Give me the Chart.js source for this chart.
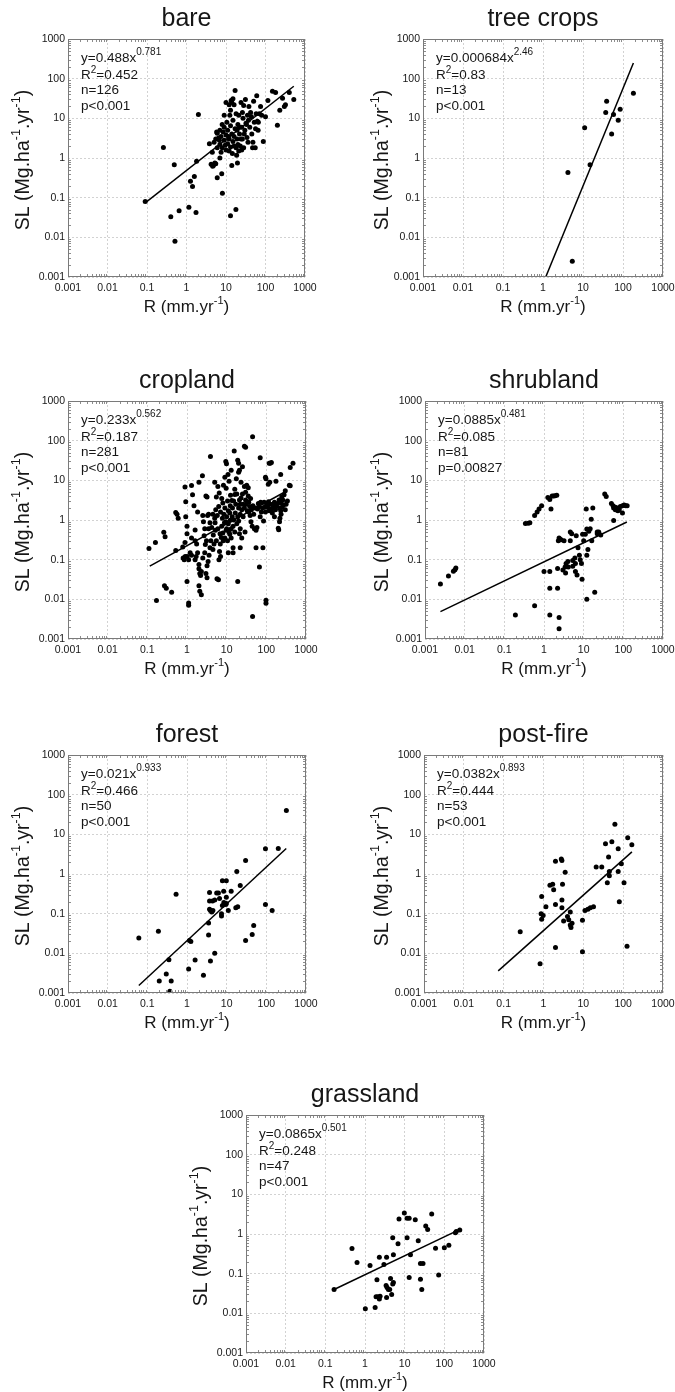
<!DOCTYPE html>
<html><head><meta charset="utf-8">
<script src="https://cdn.jsdelivr.net/npm/chart.js@4.4.0/dist/chart.umd.min.js"></script>
<style>
html,body{margin:0;padding:0;background:#fff;overflow:hidden;width:675px;height:1392px;position:relative}
canvas{position:absolute}
</style></head><body>
<script>
// ---------- data ----------
const tickValues=[0.001,0.01,0.1,1,10,100,1000];
const tickLabels=['0.001','0.01','0.1','1','10','100','1000'];
const panelTitles=['bare','tree crops','cropland','shrubland','forest','post-fire','grassland'];
const eqCoef=['0.488','0.000684','0.233','0.0885','0.021','0.0382','0.0865'];
const eqExp=['0.781','2.46','0.562','0.481','0.933','0.893','0.501'];
const r2Vals=['0.452','0.83','0.187','0.085','0.466','0.444','0.248'];
const nVals=['126','13','281','81','50','53','47'];
const pVals=['p<0.001','p<0.001','p<0.001','p=0.00827','p<0.001','p<0.001','p<0.001'];

// [R, SL] pairs
const bare=[[0.09,0.08],[0.26,1.85],[0.49,0.68],[0.40,0.033],[0.65,0.047],[0.51,0.008],[1.15,0.057],[1.74,0.042],[1.26,0.26],[1.58,0.34],[1.42,0.19],[1.8,0.83],[2.0,12.5],[8.1,0.13],[13,0.035],[17.8,0.05],
[3.8,2.3],[4.5,1.4],[4.2,0.7],[4.8,0.65],[5.2,0.75],[4.6,0.62],[5.5,0.72],[6,0.32],[7,1],[7.8,0.4],[14,0.65],[19.5,0.75],[18.6,1.17],[14.5,1.3],
[5,2.5],[5.5,3],[6,4.2],[6.5,3.2],[7,2.2],[7,5],[7.5,3.5],[8,1.8],[8,7],[8.5,4.5],[9,2.8],[9,6],[10,3.8],[10,1.6],[10.5,8],[11,2.3],[11,5],[12,3],[12,22],[12.5,12],[13,1.9],[13,6.5],[14,4],[14,25],[15,2.6],[15,9],[15,31],[16,3.5],[16,2],[17,5.5],[17,50],[18,1.8],[18,13],[19,3],[20,7],[20,2.2],[21,12],[21,1.5],[22,4],[23,2],[24,25],[25,6],[25,1.6],[26,3],[27,10],[28,21],[28,1.8],[30,5],[31,30],[33,7],[34,3.3],[35,12],[37,9],[38,20],[40,6],[42,14],[45,4],[47,1.8],[50,27],[52,8],[55,1.8],[56,5.5],[58,13],[60,37],[62,8.5],[65,5],[70,13],[80,12],[88,2.6],[100,11],[115,28],[150,48],[180,45],[200,6.7],[230,16],[270,32],[300,20],[320,22],[400,45],[520,30],
[5.8,4.5],[6.8,2.8],[9.5,2.1],[11.5,3.5],[12,1.5],[13.5,28],[16,22],[19,5],[22,6],[24,3],[29,4],[32,7.5],[36,2.5],[44,11],[48,2.5],[66,8],[75,20],[13,16],[9,12],[7.5,1.4],[6,1.8],[10,25],[26,14]];
const treeCrops=[[4.2,0.43],[5.4,0.0025],[11,5.8],[15,0.68],[39,27],[37,14],[58,12.5],[52,4],[76,9],[85,17],[182,43]];
const cropland=[[0.11,0.19],[0.16,0.27],[0.17,0.0093],[0.26,0.49],[0.28,0.38],[0.27,0.022],[0.3,0.019],[0.52,1.55],[0.56,1.4],[0.6,1.1],[0.52,0.17],[0.41,0.015],[0.78,0.21],[0.89,0.27],[0.89,6.8],[0.93,2.9],[0.93,1.2],[0.8,0.11],[0.85,0.1],[0.9,0.12],[1.0,0.45],[1.0,0.7],[1.0,0.028],[1.1,0.0081],[1.1,0.0071],[1.0,0.12],[1.1,0.1],[1.2,0.15],[1.3,0.13],[1.38,4.3],[1.5,2.3],[1.3,7.4],[2.0,9],[2.45,13],[1.85,1.6],[1.6,0.56],[1.75,0.25],[1.6,0.1],[1.7,0.12],[1.85,0.15],[2.0,0.076],[2.0,0.059],[2.1,0.045],[2.2,0.04],[2.3,0.05],[2.0,0.022],[2.1,0.016],[2.3,0.013],[2.6,0.9],[2.7,0.4],[2.9,0.24],[3.2,0.07],[3.0,0.045],[3.2,0.035],[3.4,0.09],[3.6,0.13],[3.8,0.85],[3.9,40],[3.5,1.4],[3.3,1.3],[3.0,4],[3.2,3.8],[4.6,0.42],[5.1,0.85],[5.0,1.1],[5.3,1.8],[5.5,3.8],[6,7],[6.4,0.1],[6.6,0.16],[6.9,0.25],[5.7,0.033],[6.2,0.031],[7.3,0.36],[8,0.47],[7.8,1.1],[8.8,0.85],[9.7,0.55],[8,2.7],[8.3,7.5],[9.7,6.3],[9.5,30],[9.9,26],[11.5,9.5],[10.8,14],[11,1.7],[12.3,2.3],[13.4,3.1],[12,0.44],[13,0.35],[14.5,0.2],[12.3,0.98],[13.8,1.2],[14.5,0.7],[14.5,0.15],[16,6],[16,4.4],[15.5,55],[17.5,11],[19,0.028],[19,32],[20,27],[20,16],[21,18],[20,0.95],[22,0.2],[21,0.45],[22,0.6],[22,2.5],[24,1.8],[26,2.5],[23,3.6],[23,9],[28,7],[30,5],[28,72],[30,68],[32,7.5],[35,6.5],[31,2.5],[36,2.8],[36,1.6],[39,1.3],[41,0.9],[44,0.7],[50,0.6],[55,0.55],[45,125],[45,0.0037],[55,0.2],[60,1.9],[63,2.6],[70,1.2],[72,2.8],[70,37],[67,0.065],[82,0.2],[85,0.95],[95,12],[98,11],[90,2.1],[103,2.5],[113,2.9],[118,1.7],[98,0.0095],[98,0.008],[112,8],[122,9],[118,27],[125,27],[134,28],[134,1.9],[142,1.5],[148,2.3],[160,1.2],[170,1.8],[160,2.8],[180,2.3],[200,0.62],[205,0.57],[215,0.9],[220,1.1],[235,1.4],[215,2],[235,2.7],[260,3.2],[245,3.8],[230,14],[175,9.5],[280,4.3],[300,1.8],[315,2.5],[340,3],[380,7.5],[400,7.3],[400,21],[470,27],[300,5.5],
[2.5,1.3],[2.8,0.6],[3.1,0.3],[3.5,0.6],[3.8,0.2],[4.0,0.3],[4.2,0.65],[4.5,1.4],[4.8,0.25],[5.2,0.55],[5.5,0.3],[5.8,1.3],[6,0.6],[6.3,2.2],[6.8,0.45],[7,1.6],[7.5,0.7],[7.5,3.5],[8.2,0.3],[8.5,1.4],[9,0.35],[9,2],[9.5,0.9],[10,0.6],[10,1.2],[10.5,0.3],[10.5,3],[11,0.8],[11.5,0.5],[12,1.5],[12.5,4.2],[13,0.6],[14,2],[15,1],[15,3],[16,0.5],[16.5,1.5],[17,2.5],[18,0.8],[18,4.5],[19,1.2],[20,2],[21,3.2],[22,1.4],[24,0.35],[25,4.5],[26,1.2],[28,2],[29,0.5],[30,3.2],[33,1.7],[35,4],[38,2.2],[40,3.5],[42,1.8],[46,2.3],[48,1.4],[52,2],[58,0.65],[65,2.2],[75,1.6],[80,2],[88,2.8],[95,1.6],[108,2.1],[128,2.5],[150,2],[190,2.6],[210,3.2],[250,2.1],[270,2.4],[230,1.7],[9,12],[6.5,4.8],[5,9],[13,18],[25,22],[11,0.15],[7,0.12],[4.5,0.18],[2.8,0.15],[2.5,0.11],[1.6,0.3],[1.3,0.35]];
const shrubland=[[0.00245,0.0245],[0.0039,0.039],[0.0052,0.051],[0.0057,0.056],[0.006,0.062],[0.19,0.004],[0.58,0.0069],[0.34,0.82],[0.40,0.83],[0.44,0.85],[0.58,1.3],[0.67,1.6],[0.75,1.9],[0.87,2.3],[1.0,0.05],[1.4,0.05],[1.4,0.019],[1.4,0.004],[1.25,3.7],[1.4,3.3],[1.6,4],[1.75,4],[1.9,4.1],[2.1,4.2],[1.5,1.9],[2.2,0.019],[2.2,0.06],[2.4,0.0035],[2.4,0.0018],[2.3,0.3],[2.5,0.33],[2.7,0.32],[3.2,0.3],[2.4,0.35],[3,0.055],[3.4,0.065],[3.6,0.08],[3.5,0.046],[4,0.09],[4.1,0.065],[4.6,0.3],[4.6,0.5],[5,0.45],[5.3,0.095],[6,0.11],[6.2,0.08],[5.3,0.068],[6.2,0.05],[6.8,0.041],[6.5,0.4],[7.2,0.2],[7.8,0.13],[8.2,0.1],[8.8,0.08],[9.1,0.032],[9.4,0.44],[10,0.3],[11,0.44],[12,0.59],[13.5,0.52],[11.6,1.9],[12,0.13],[12.8,0.18],[12,0.01],[14.6,0.6],[16,0.3],[15.5,1.05],[17,2],[19,0.015],[22,0.45],[24,0.5],[27,0.42],[22,0.5],[34,4.5],[37,3.9],[50,2.6],[55,2.3],[57,2],[57,0.97],[63,2.1],[70,2],[73,1.7],[84,2.2],[95,2.3],[105,2.4],[115,2.3],[125,2.3],[95,1.5],[63,1.8],[79,1.8]];
const forest=[[0.061,0.0245],[0.19,0.036],[0.53,0.31],[0.2,0.002],[0.3,0.003],[0.35,0.0069],[0.4,0.002],[0.37,0.0011],[1.1,0.004],[1.15,0.021],[1.25,0.02],[1.6,0.0068],[2.6,0.0028],[3.5,0.029],[3.5,0.058],[3.7,0.34],[3.7,0.21],[3.7,0.13],[3.9,0.12],[4.2,0.11],[4.5,0.12],[3.9,0.0064],[5,0.01],[4.4,0.21],[5,0.22],[5.6,0.33],[6.2,0.33],[6.6,0.24],[7.4,0.087],[7.4,0.1],[7.8,0.16],[7.8,0.68],[8.5,0.19],[8.4,0.37],[9.8,0.68],[9.8,0.26],[9.8,0.18],[9.5,0.17],[11,0.12],[13,0.37],[18,1.15],[17,0.14],[19,0.15],[22,0.51],[30,2.2],[30,0.021],[44,0.03],[48,0.05],[95,0.17],[95,4.3],[140,0.12],[200,4.4],[320,40]];
const postFire=[[0.26,0.035],[0.82,0.0055],[0.87,0.1],[0.9,0.072],[0.98,0.09],[0.9,0.27],[1.15,0.15],[1.45,0.52],[1.7,0.55],[1.8,0.4],[2.0,0.17],[2.0,0.014],[2.0,2.1],[2.8,2.4],[2.9,2.2],[2.9,0.22],[2.9,0.14],[3.0,0.55],[3.2,0.065],[3.5,1.1],[4,0.085],[4.3,0.07],[4.7,0.11],[4.7,0.052],[4.9,0.045],[5.2,0.057],[9.5,0.068],[9.5,0.011],[11,0.12],[13,0.13],[15,0.14],[18,0.15],[21,1.5],[29,1.5],[36,5.8],[52,6.5],[45,1.15],[40,0.6],[43,2.7],[45,0.9],[62,18],[75,4.3],[75,1.15],[80,0.2],[90,1.8],[105,0.6],[125,0.015],[130,8.2],[165,5.5]];
const grassland=[[0.166,0.04],[0.47,0.43],[0.63,0.19],[1.02,0.013],[1.34,0.16],[1.8,0.014],[2.0,0.07],[1.9,0.026],[2.1,0.026],[2.3,0.023],[2.4,0.027],[2.3,0.26],[3.0,0.17],[3.5,0.26],[3.4,0.05],[3.6,0.045],[3.9,0.04],[4.2,0.04],[3.5,0.025],[4.4,0.075],[4.7,0.03],[5,0.8],[5,0.055],[5.2,0.06],[5.2,0.3],[7.2,2.4],[6.8,0.57],[9.8,3.4],[11.5,2.5],[13,2.5],[11.5,0.8],[13,0.08],[14,0.3],[18.5,2.3],[22,0.68],[25,0.18],[29,0.18],[25,0.072],[27,0.04],[34,1.6],[38,1.3],[48,3.2],[60,0.44],[72,0.093],[100,0.45],[130,0.52],[190,1.07],[200,1.15],[245,1.27]];

// fitted power-law lines: endpoints [R, SL]
const bareFit=[[0.09,0.074],[520,64.5]];
const treeCropsFit=[[1.17,0.001],[182,248]];
const croplandFit=[[0.115,0.069],[316,5.3]];
const shrublandFit=[[0.00245,0.0049],[123,0.89]];
const forestFit=[[0.061,0.00154],[318,4.4]];
const postFireFit=[[0.073,0.0036],[166,3.6]];
const grasslandFit=[[0.166,0.04],[263,1.35]];

const panelPoints=[bare,treeCrops,cropland,shrubland,forest,postFire,grassland];
const panelFits=[bareFit,treeCropsFit,croplandFit,shrublandFit,forestFit,postFireFit,grasslandFit];

// ---------- layout (pixels) ----------
const layoutPos=[
 {left:0,  plotL:68,  plotR:305, plotT:39,   yTitleX:24},
 {left:337,plotL:423, plotR:663, plotT:39,   yTitleX:383},
 {left:0,  plotL:68,  plotR:306, plotT:401,  yTitleX:24},
 {left:337,plotL:425, plotR:663, plotT:401,  yTitleX:383},
 {left:0,  plotL:68,  plotR:306, plotT:755,  yTitleX:24},
 {left:337,plotL:424, plotR:663, plotT:755,  yTitleX:383},
 {left:160,plotL:246, plotR:484, plotT:1115, yTitleX:202}
];
const PLOT_H=238, TOP_H=39, BOTTOM_H=46, PAD_R=32;
const FONT="'Liberation Sans', Arial, Helvetica, sans-serif";
const INK='#161616';

function drawRich(ctx,parts,x,y,size,supSize,rise,align){
  let w=0;
  for(const p of parts){ctx.font=(p.s?supSize:size)+'px '+FONT;w+=ctx.measureText(p.t).width;}
  let cx = align==='center'? x-w/2 : x;
  ctx.textAlign='left';ctx.textBaseline='middle';
  for(const p of parts){ctx.font=(p.s?supSize:size)+'px '+FONT;ctx.fillText(p.t,cx,p.s?y-rise:y);cx+=ctx.measureText(p.t).width;}
}

const decorPlugin={id:'decor',afterDraw(chart,args,opts){
  const i=opts.idx, L=layoutPos[i];
  const {ctx,chartArea:a}=chart; const xs=chart.scales.x, ys=chart.scales.y;
  ctx.save();
  // minor ticks + frame
  ctx.strokeStyle='#8c8c8c';ctx.lineWidth=1;ctx.setLineDash([]);
  ctx.beginPath();
  for(let d=-3;d<3;d++){for(let m=2;m<10;m++){const v=m*Math.pow(10,d);
    const px=Math.round(xs.getPixelForValue(v))+0.5;
    ctx.moveTo(px,a.top);ctx.lineTo(px,a.top+3);ctx.moveTo(px,a.bottom);ctx.lineTo(px,a.bottom-3);
    const py=Math.round(ys.getPixelForValue(v))+0.5;
    ctx.moveTo(a.left,py);ctx.lineTo(a.left+3,py);ctx.moveTo(a.right,py);ctx.lineTo(a.right-3,py);}}
  ctx.stroke();
  ctx.strokeStyle='#7a7a7a';
  ctx.strokeRect(Math.round(a.left)+0.5,Math.round(a.top)+0.5,Math.round(a.right-a.left)-1,Math.round(a.bottom-a.top)-1);
  // annotation
  ctx.fillStyle=INK;
  const tx=a.left+13;
  drawRich(ctx,[{t:'y='+eqCoef[i]+'x'},{t:eqExp[i],s:1}],tx,a.top+19,13.5,10,6,'left');
  drawRich(ctx,[{t:'R'},{t:'2',s:1},{t:'='+r2Vals[i]}],tx,a.top+36,13.5,10,5,'left');
  drawRich(ctx,[{t:'n='+nVals[i]}],tx,a.top+51.5,13.5,10,5,'left');
  drawRich(ctx,[{t:pVals[i]}],tx,a.top+67,13.5,10,5,'left');
  // axis titles
  drawRich(ctx,[{t:'R (mm.yr'},{t:'-1',s:1},{t:')'}],(a.left+a.right)/2,a.bottom+30,17,11,6,'center');
  ctx.translate(L.yTitleX-L.left,(a.top+a.bottom)/2+2);ctx.rotate(-Math.PI/2);
  drawRich(ctx,[{t:'SL (Mg.ha'},{t:'-1',s:1},{t:'.yr'},{t:'-1',s:1},{t:')'}],0,0,19.5,12.5,7,'center');
  ctx.restore();
}};

function axis(isX,L){
  return {
    type:'logarithmic',min:0.001,max:1000,
    afterBuildTicks:s=>{s.ticks=tickValues.map(v=>({value:v}));},
    afterFit:s=>{ if(isX) s.height=BOTTOM_H; else s.width=L.plotL-L.left; },
    ticks:{callback:(v,idx)=>tickLabels[idx],font:{size:10.5,family:FONT},color:INK,padding:isX?5:3,autoSkip:false,maxRotation:0,minRotation:0},
    grid:{color:'#d2d2d2',lineWidth:1,drawTicks:false},
    border:{display:false,dash:[2,2]}
  };
}

panelTitles.forEach((title,i)=>{
  const L=layoutPos[i];
  const c=document.createElement('canvas');
  const w=L.plotR+PAD_R-L.left, h=TOP_H+PLOT_H+BOTTOM_H;
  c.width=w;c.height=h;
  c.style.left=L.left+'px';c.style.top=(L.plotT-TOP_H)+'px';c.style.width=w+'px';c.style.height=h+'px';
  document.body.appendChild(c);
  new Chart(c,{
    type:'scatter',
    data:{datasets:[
      {type:'scatter',data:panelPoints[i].map(p=>({x:p[0],y:p[1]})),pointRadius:2.5,pointBackgroundColor:'#000',pointBorderWidth:0,pointBorderColor:'#000'},
      {type:'line',data:panelFits[i].map(p=>({x:p[0],y:p[1]})),borderColor:'#000',borderWidth:1.5,pointRadius:0,fill:false,tension:0}
    ]},
    options:{
      responsive:false,animation:false,events:[],devicePixelRatio:1,
      layout:{padding:{left:0,right:PAD_R,top:0,bottom:0}},
      scales:{x:axis(true,L),y:axis(false,L)},
      plugins:{
        legend:{display:false},tooltip:{enabled:false},
        title:{display:true,text:title,fullSize:false,color:INK,font:{size:25,family:FONT,weight:'normal',lineHeight:1.2},padding:{top:4,bottom:5}},
        decor:{idx:i}
      }
    },
    plugins:[decorPlugin]
  });
});
</script>
</body></html>
